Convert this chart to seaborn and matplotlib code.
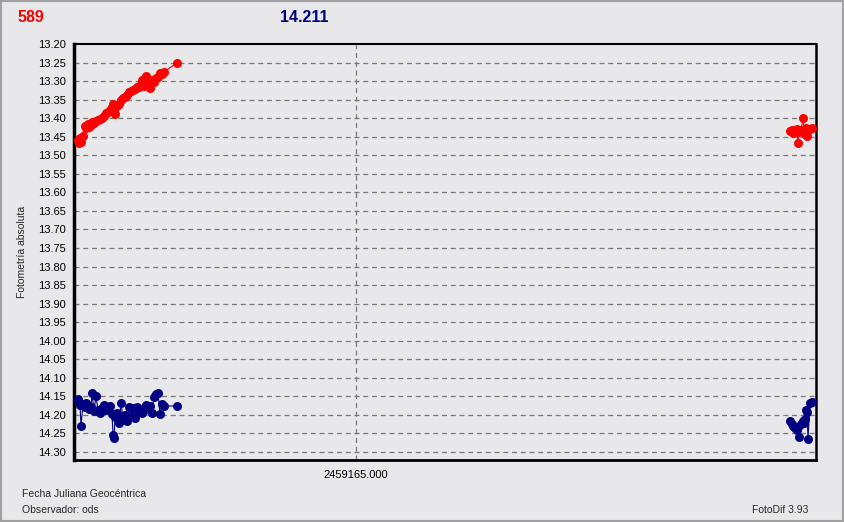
import numpy as np
import pandas as pd
import matplotlib
matplotlib.use('Agg')
import matplotlib.pyplot as plt
import seaborn as sns
from matplotlib.patches import Rectangle

# tiempos (fecha juliana) de cada toma, dos noches / tramos
jd_tramo1 = [2459164.6254, 2459164.6267, 2459164.6281, 2459164.6294, 2459164.6321,
             2459164.6348, 2459164.6362, 2459164.6389, 2459164.6402, 2459164.6429,
             2459164.6443, 2459164.6470, 2459164.6496, 2459164.6523, 2459164.6550,
             2459164.6577, 2459164.6604, 2459164.6631, 2459164.6658, 2459164.6685,
             2459164.6712, 2459164.6726, 2459164.6739, 2459164.6753, 2459164.6780,
             2459164.6806, 2459164.6833, 2459164.6860, 2459164.6887, 2459164.6914,
             2459164.6941, 2459164.6968, 2459164.6995, 2459164.7022, 2459164.7049,
             2459164.7076, 2459164.7103, 2459164.7116, 2459164.7143, 2459164.7170,
             2459164.7197, 2459164.7224, 2459164.7251, 2459164.7278, 2459164.7305,
             2459164.7332, 2459164.7359, 2459164.7386, 2459164.7413, 2459164.7588]
jd_tramo2 = [2459165.5850, 2459165.5877, 2459165.5890, 2459165.5917, 2459165.5944,
             2459165.5957, 2459165.5971, 2459165.5998, 2459165.6025, 2459165.6038,
             2459165.6052, 2459165.6065, 2459165.6079, 2459165.6092, 2459165.6119,
             2459165.6146]

# objeto 589 (rojo)
mag_obj_tramo1 = [13.459, 13.467, 13.453, 13.464, 13.448, 13.421, 13.426, 13.416, 13.424, 13.418,
                  13.410, 13.413, 13.408, 13.405, 13.402, 13.400, 13.394, 13.386, 13.383, 13.378,
                  13.370, 13.362, 13.378, 13.389, 13.367, 13.362, 13.351, 13.346, 13.343, 13.338,
                  13.329, 13.327, 13.324, 13.321, 13.316, 13.316, 13.308, 13.297, 13.313, 13.286,
                  13.308, 13.319, 13.297, 13.302, 13.292, 13.289, 13.278, 13.281, 13.275, 13.251]
mag_obj_tramo2 = [13.435, 13.432, 13.440, 13.435, 13.429, 13.467, 13.437, 13.432,
                  13.400, 13.435, 13.443, 13.426, 13.448, 13.432, 13.429, 13.426]

# estrella de comparacion 14.211 (azul)
mag_comp_tramo1 = [14.157, 14.165, 14.173, 14.230, 14.171, 14.179, 14.168, 14.176, 14.184, 14.179,
                   14.141, 14.190, 14.149, 14.187, 14.195, 14.181, 14.173, 14.187, 14.181, 14.176,
                   14.198, 14.254, 14.262, 14.206, 14.195, 14.222, 14.168, 14.208, 14.200, 14.216,
                   14.179, 14.203, 14.181, 14.208, 14.179, 14.192, 14.187, 14.195, 14.181, 14.173,
                   14.184, 14.176, 14.195, 14.152, 14.144, 14.141, 14.198, 14.171, 14.176, 14.176]
mag_comp_tramo2 = [14.216, 14.225, 14.230, 14.235, 14.241, 14.233, 14.260, 14.225,
                   14.216, 14.222, 14.211, 14.187, 14.192, 14.265, 14.168, 14.165]

etiqueta_obj = '589'
etiqueta_comp = '14.211'
y_ticks = np.round(np.arange(13.20, 14.301, 0.05), 2)
x_tick = 2459165.0

fondo = '#e8e8ea'
rojo = '#ff0000'
azul = '#000080'

filas = []
for serie, tramos in [(etiqueta_obj, [(jd_tramo1, mag_obj_tramo1), (jd_tramo2, mag_obj_tramo2)]),
                      (etiqueta_comp, [(jd_tramo1, mag_comp_tramo1), (jd_tramo2, mag_comp_tramo2)])]:
    for i, (jd, mag) in enumerate(tramos):
        for t, m in zip(jd, mag):
            filas.append({'serie': serie, 'tramo': i, 'jd': t, 'mag': m})
df = pd.DataFrame(filas)

sns.set_style('white')
plt.rcParams['font.family'] = ['Liberation Sans', 'DejaVu Sans']

fig = plt.figure(figsize=(8.44, 5.22), dpi=100, facecolor=fondo)
ax = fig.add_axes([74 / 844, 1 - 460 / 522, (816 - 74) / 844, (460 - 44) / 522])
ax.set_facecolor(fondo)

sns.lineplot(data=df, x='jd', y='mag', hue='serie', units='tramo', estimator=None,
             palette={etiqueta_obj: rojo, etiqueta_comp: azul}, hue_order=[etiqueta_obj, etiqueta_comp],
             marker='o', markersize=6.5, markeredgewidth=0, linewidth=0.8, sort=True,
             legend=False, ax=ax, zorder=3)

ax.set_xlim(2459164.62, 2459165.62)
ax.set_ylim(14.3216, 13.20)
ax.set_yticks(y_ticks)
ax.set_yticklabels([f'{v:.2f}' for v in y_ticks], fontsize=8)
ax.set_xticks([x_tick])
ax.set_xticklabels([f'{x_tick:.3f}'], fontsize=8)
ax.tick_params(axis='y', direction='out', length=4, width=0.8, pad=2, colors='black')
ax.tick_params(axis='x', direction='out', length=4, width=0.6, pad=3, colors='black')
ax.set_xlabel('')
ax.set_ylabel('')

for v in y_ticks[1:]:
    ax.axhline(v, color='#787878', lw=0.9, ls=(0, (4, 3)), zorder=1)
ax.axvline(x_tick, color='#787878', lw=0.9, ls=(0, (4, 3)), zorder=1)

for lado, ancho in [('left', 2.5), ('bottom', 2.0), ('right', 1.8), ('top', 1.5)]:
    ax.spines[lado].set_visible(True)
    ax.spines[lado].set_color('black')
    ax.spines[lado].set_linewidth(ancho)

fig.text(18 / 844, 1 - 18 / 522, etiqueta_obj, color=rojo, fontsize=11.5, fontweight='bold',
         ha='left', va='center')
fig.text(280 / 844, 1 - 18 / 522, etiqueta_comp, color=azul, fontsize=11.5, fontweight='bold',
         ha='left', va='center')
fig.text(22 / 844, 1 - 252 / 522, 'Fotometría absoluta', rotation=90, fontsize=7.5,
         ha='center', va='center')
fig.text(22 / 844, 1 - 494 / 522, 'Fecha Juliana Geocéntrica', fontsize=7.5, ha='left', va='center')
fig.text(22 / 844, 1 - 510 / 522, 'Observador: ods', fontsize=7.5, ha='left', va='center')
fig.text(808 / 844, 1 - 510 / 522, 'FotoDif 3.93', fontsize=7.5, ha='right', va='center')

fig.patches.append(Rectangle((0.001, 0.001), 0.998, 0.997, transform=fig.transFigure,
                             fill=False, edgecolor='#a0a0a0', lw=1.5))

fig.savefig('out.png', dpi=100, facecolor=fondo)
